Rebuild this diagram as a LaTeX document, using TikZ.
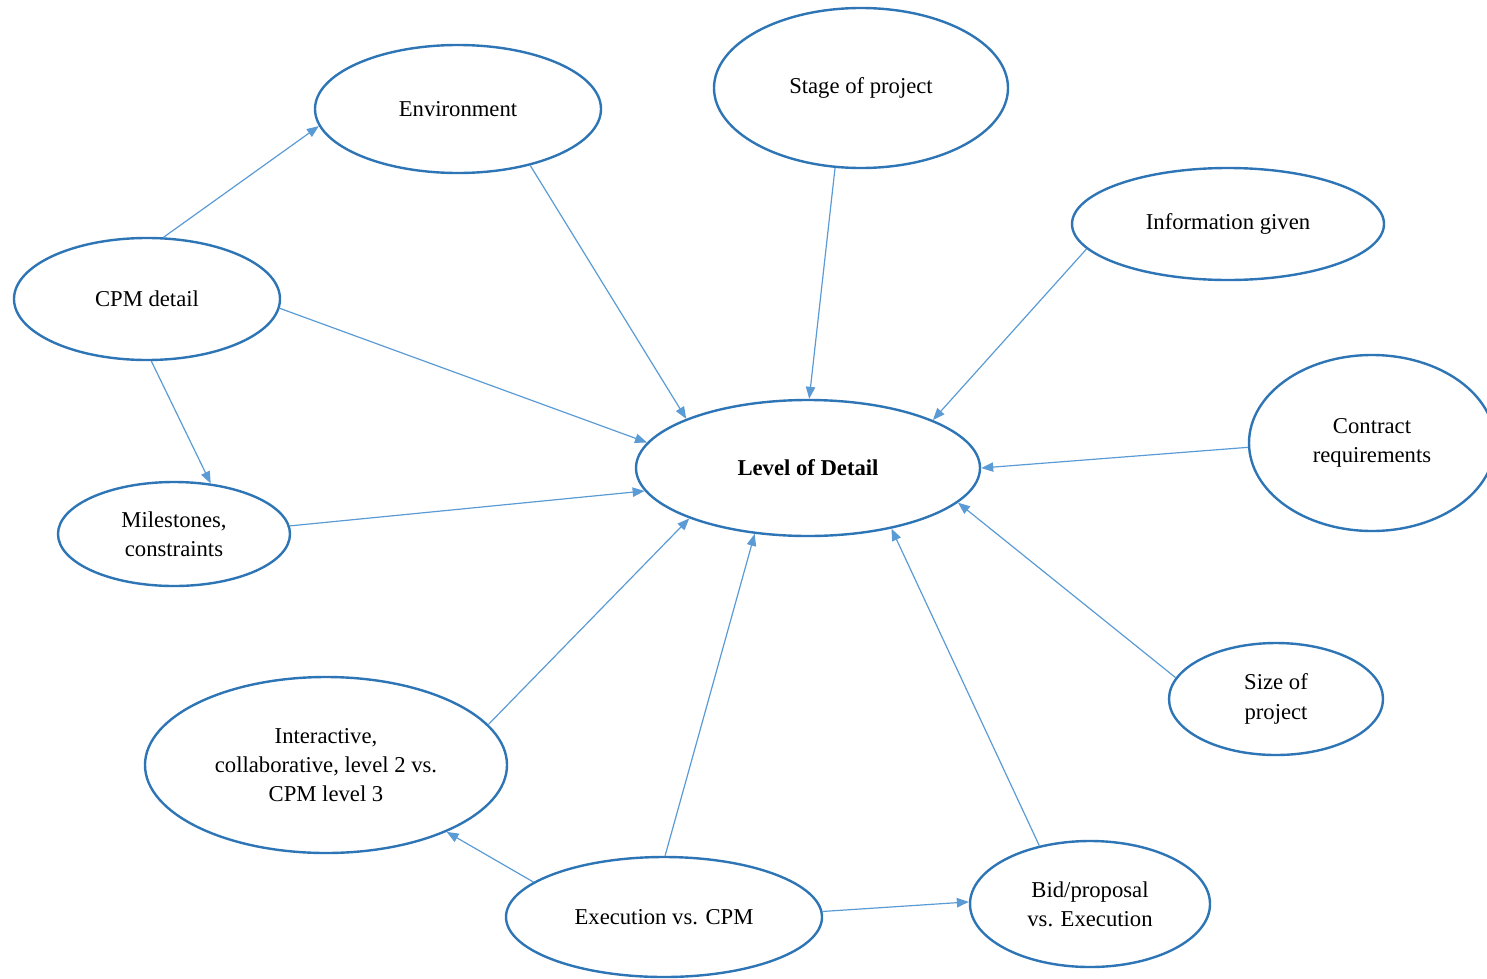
\documentclass[tikz,border=0pt]{standalone}
\usepackage{fontspec}
\setmainfont{Liberation Serif}
\usetikzlibrary{shapes.geometric,arrows.meta}
\definecolor{ellblue}{HTML}{2E75B6}
\definecolor{arrblue}{HTML}{5B9BD5}
\begin{document}
\begin{tikzpicture}[x=0.75pt,y=-0.75pt,
  ell/.style 2 args={ellipse, draw=ellblue, line width=1.8pt, fill=white,
    inner sep=0pt, minimum width=#1*0.75pt, minimum height=#2*0.75pt,
    align=center, font=\fontsize{17}{22}\selectfont},
  conn/.style={draw=arrblue, line width=0.9pt, -{Triangle[length=9pt,width=7pt]}}]
\useasboundingbox (0,0) rectangle (1487,978);
\node[ell={286}{128}] (env) at (458,109) {Environment};
\node[ell={294}{160}] (stage) at (861,88) {Stage of project};
\node[ell={312}{112}] (info) at (1228,224) {Information given};
\node[ell={246}{176}] (contract) at (1372,443) {Contract\\requirements};
\node[ell={266}{122}] (cpm) at (147,299) {CPM detail};
\node[ell={232}{104}] (mile) at (174,534) {Milestones,\\constraints};
\node[ell={344}{136}, font=\fontsize{17}{22}\selectfont\bfseries] (lod) at (808,468) {Level of Detail};
\node[ell={214}{112}] (size) at (1276,699) {Size of\\project};
\node[ell={362}{176}] (inter) at (326,765) {Interactive,\\collaborative, level 2 vs.\\CPM level 3};
\node[ell={316}{120}] (exec) at (664,917) {Execution vs. CPM};
\node[ell={240}{126}] (bid) at (1090,904) {Bid/proposal\\vs. Execution};

\draw[conn] (cpm.75) -- (env.187.3);
\draw[conn] (env.-38.5) -- (lod.158.1);
\draw[conn] (stage.-108) -- (lod.89);
\draw[conn] (info.-170.5) -- (lod.21.2);
\draw[conn] (contract.182) -- (lod.0);
\draw[conn] (size.168) -- (lod.-13.2);
\draw[conn] (bid.131.8) -- (lod.-36.3);
\draw[conn] (exec.89) -- (lod.-129.6);
\draw[conn] (inter.14.9) -- (lod.-157.5);
\draw[conn] (mile.4.9) -- (lod.188.3);
\draw[conn] (cpm.-4.3) -- (lod.171.4);
\draw[conn] (cpm.-86.4) -- (mile.54.9);
\draw[conn] (exec.165.1) -- (inter.-29.6);
\draw[conn] (exec.2.5) -- (bid.179.5);
\end{tikzpicture}
\end{document}
